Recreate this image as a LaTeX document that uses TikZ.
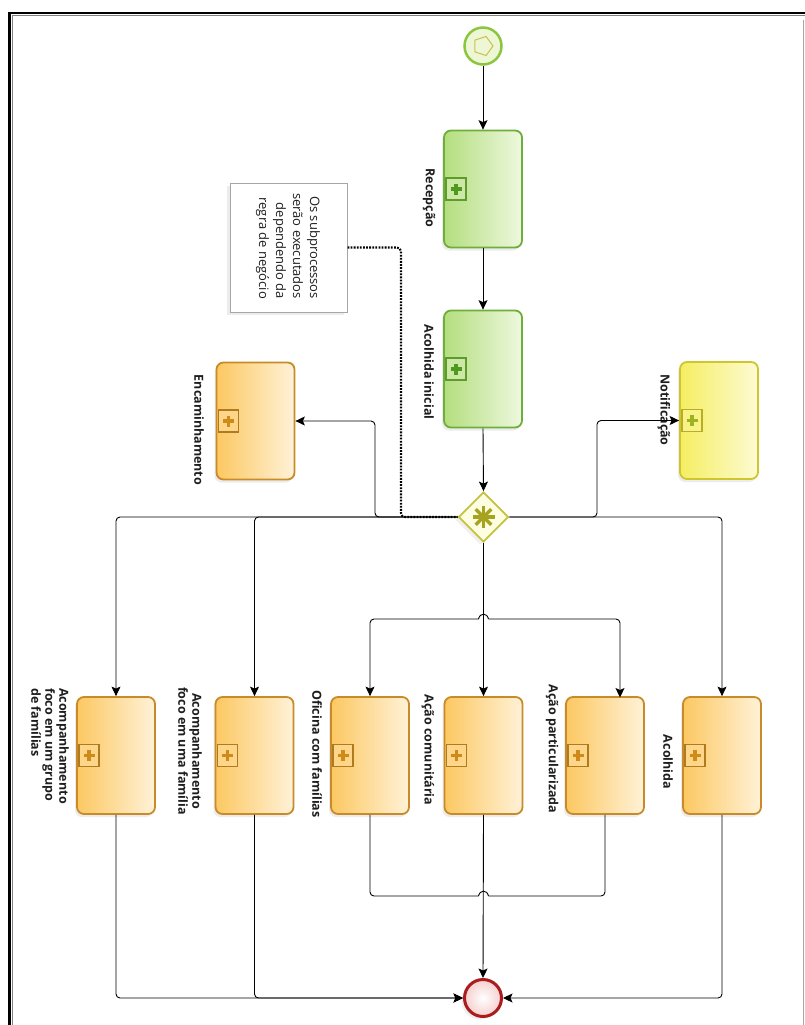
\documentclass[tikz,border=0pt]{standalone}
\usepackage{fontspec}
\setmainfont{Open Sans}
\usetikzlibrary{arrows.meta,shadows,shapes.geometric,calc}
\definecolor{gOut}{HTML}{6FAE3A}
\definecolor{gL}{HTML}{B4DE7E}
\definecolor{gR}{HTML}{EEF8DF}
\definecolor{gMk}{HTML}{5E9A2C}
\definecolor{gPl}{HTML}{4F9A1E}
\definecolor{oOut}{HTML}{C88B28}
\definecolor{oL}{HTML}{FCC862}
\definecolor{oR}{HTML}{FFF2D8}
\definecolor{oMk}{HTML}{B07A20}
\definecolor{oPl}{HTML}{D08A1A}
\definecolor{yOut}{HTML}{CFC52E}
\definecolor{yL}{HTML}{F5EE62}
\definecolor{yR}{HTML}{FDFBD2}
\definecolor{yMk}{HTML}{B8AE25}
\definecolor{yPl}{HTML}{9DB320}
\definecolor{gwOut}{HTML}{C4C23E}
\definecolor{gwFill}{HTML}{FDFDE2}
\definecolor{gwAst}{HTML}{A6A31E}
\definecolor{stOut}{HTML}{8CC63F}
\definecolor{stFill}{HTML}{EDF7D6}
\definecolor{pent}{HTML}{C9C24A}
\definecolor{endOut}{HTML}{AA1D1D}
\definecolor{endFill}{HTML}{F6CFCF}
\definecolor{txt}{HTML}{1E1E1E}
\newcommand{\bpmnplus}[1]{%
  \fill[#1] ($(path picture bounding box.center)+(-5.5,-1.8)$) rectangle ($(path picture bounding box.center)+(5.5,1.8)$);
  \fill[#1] ($(path picture bounding box.center)+(-1.8,-5.5)$) rectangle ($(path picture bounding box.center)+(1.8,5.5)$);}
\begin{document}
\begin{tikzpicture}[x=1pt,y=-1pt,
  flow/.style={draw=black, line width=0.9pt, -{Stealth[length=9.5pt,width=9pt,inset=2pt]}, rounded corners=4pt},
  plain/.style={draw=black, line width=0.9pt, rounded corners=4pt},
  assoc/.style={draw=black, line width=2.1pt, dash pattern=on 1.8pt off 1.3pt, rounded corners=4pt},
  task/.style={rectangle, rounded corners=7pt, minimum width=78pt, minimum height=117pt, line width=1.8pt, inner sep=0pt,
     drop shadow={opacity=0.15, shadow xshift=-2pt, shadow yshift=-3pt}},
  taskG/.style={task, draw=gOut, left color=gL, right color=gR},
  taskO/.style={task, draw=oOut, left color=oL, right color=oR},
  taskY/.style={task, draw=yOut, left color=yL, right color=yR},
  marker/.style={rectangle, minimum width=20pt, minimum height=22pt, inner sep=0pt, line width=1.3pt},
  markG/.style={marker, draw=gMk, fill=gL!70!white, path picture={\bpmnplus{gPl}}},
  markO/.style={marker, draw=oMk, fill=oL!75!white, path picture={\bpmnplus{oPl}}},
  markY/.style={marker, draw=yMk, fill=yL!75!white, path picture={\bpmnplus{yPl}}},
  lbl/.style={rotate=-90, font=\fontsize{12.5}{14}\selectfont\bfseries, text=txt, inner sep=0pt, align=center},
]
\useasboundingbox (0,0) rectangle (805,1025);
\fill[white] (0,0) rectangle (805,1025);
% frame
\draw[black, line width=2.5pt] (9.5,1030) -- (9.5,13) -- (810,13);
\draw[gray, line width=1pt] (12.7,1030) -- (12.7,16) -- (810,16);
\draw[gray!70, line width=0.8pt] (803,20) -- (803,1030);

% start event
\node[circle, draw=stOut, line width=2.5pt, fill=stFill, minimum size=37pt, inner sep=0pt] (st) at (483,46) {};
\node[regular polygon, regular polygon sides=5, shape border rotate=-90, draw=pent, line width=1pt, minimum size=20pt, inner sep=0pt] (stp) at (st.center) {};

% green tasks
\node[taskG] (rec) at (483,189) {};
\node[markG] (mrec) at ($(rec.west)+(13,0)$) {};
\node[lbl] (lrec) at (429,198) {Recepção};
\node[taskG] (ini) at (483,369) {};
\node[markG] (mini) at ($(ini.west)+(13,0)$) {};
\node[lbl] (lini) at (429,372) {Acolhida inicial};

% note
\node[rectangle, draw=gray!70, line width=1pt, fill=white, minimum width=117pt, minimum height=129pt,
      drop shadow={opacity=0.15, shadow xshift=-3pt, shadow yshift=-3pt}] (note) at (288.5,247.5) {};
\node[rotate=-90, align=right, font=\fontsize{13}{17}\selectfont, text=txt, inner sep=0pt] (ntxt) at (288,246)
  {Os subprocessos\\serão executados\\dependendo da\\regra de negócio};

% gateway
\node[diamond, draw=gwOut, fill=gwFill, line width=1.8pt, minimum width=50pt, minimum height=50pt, inner sep=0pt,
      drop shadow={opacity=0.12, shadow xshift=-3pt, shadow yshift=-3pt}] (gw) at (483.5,517) {};
\foreach \a in {0,45,90,135}
  \draw[gwAst, line width=3.4pt] ($(gw.center)+(\a:11)$) -- ($(gw.center)+(\a+180:11)$);

% encaminhamento / notificacao
\node[taskO] (enc) at (255.5,421) {};
\node[markO] (menc) at ($(enc.west)+(13,0)$) {};
\node[lbl] (lenc) at (199,430) {Encaminhamento};
\node[taskY] (nt) at (719,420.5) {};
\node[markY] (mnt) at ($(nt.west)+(13,0)$) {};
\node[lbl] (lnt) at (664,410) {Notificação};

% bottom tasks
\node[taskO] (grp) at (116,755.5) {};
\node[markO] (mgrp) at ($(grp.west)+(13,0)$) {};
\node[lbl, align=left, anchor=north west] (lgrp) at (69,688) {Acompanhamento\\foco em um grupo\\de famílias};
\node[taskO] (fam) at (254.5,755.5) {};
\node[markO] (mfam) at ($(fam.west)+(13,0)$) {};
\node[lbl] (lfam) at (190,751) {Acompanhamento\\foco em uma família};
\node[taskO] (ofi) at (370,755.5) {};
\node[markO] (mofi) at ($(ofi.west)+(13,0)$) {};
\node[lbl] (lofi) at (317,754) {Oficina com famílias};
\node[taskO] (com) at (483.5,755.5) {};
\node[markO] (mcom) at ($(com.west)+(13,0)$) {};
\node[lbl] (lcom) at (428,750) {Ação comunitária};
\node[taskO] (par) at (605,755.5) {};
\node[markO] (mpar) at ($(par.west)+(13,0)$) {};
\node[lbl] (lpar) at (552,749) {Ação particularizada};
\node[taskO] (aco) at (722,755.5) {};
\node[markO] (maco) at ($(aco.west)+(13,0)$) {};
\node[lbl] (laco) at (668,762) {Acolhida};

% end event
\node[circle, draw=endOut, line width=3pt, inner color=white, outer color=endFill, minimum size=37pt, inner sep=0pt,
      drop shadow={opacity=0.12, shadow xshift=-3pt, shadow yshift=-3pt}] (en) at (483,998) {};

% helper coordinates
\coordinate (cenc) at (375,517);
\coordinate (cnt) at (597,517);
\coordinate (dA) at (401,517);
\coordinate (parin) at (620,697.5);
\coordinate (h1l) at (478.5,619);
\coordinate (h1r) at (488.5,619);
\coordinate (h2l) at (478.5,896);
\coordinate (h2r) at (488.5,896);

% flows top
\draw[flow] (st.south) -- (rec.north);
\draw[flow] (rec.south) -- (ini.north);
\draw[flow] (ini.south) -- (gw.north);

% gateway outgoing
\draw[flow] (gw.west) -| (grp.north);
\draw[flow] (gw.west) -| (fam.north);
\draw[flow] (gw.west) -- (cenc) |- (enc.east);
\draw[flow] (gw.east) -| (aco.north);
\draw[flow] (gw.east) -- (cnt) |- (nt.west);
\draw[flow] (gw.south) -- (com.north);
\draw[flow] (h1l) -| (ofi.north);
\draw[flow] (h1r) -| (parin);
\draw[plain] (h1l) .. controls (480,612.5) and (487,612.5) .. (h1r);

% association
\draw[assoc] (note.east) -| (dA) -- (gw.west);

% to end
\draw[flow] (grp.south) |- (en.west);
\draw[flow] (fam.south) |- (en.west);
\draw[flow] (com.south) -- (en.north);
\draw[flow] (aco.south) |- (en.east);
\draw[plain] (ofi.south) |- (h2l);
\draw[plain] (par.south) |- (h2r);
\draw[plain] (h2l) .. controls (480,889.5) and (487,889.5) .. (h2r);
\end{tikzpicture}
\end{document}
